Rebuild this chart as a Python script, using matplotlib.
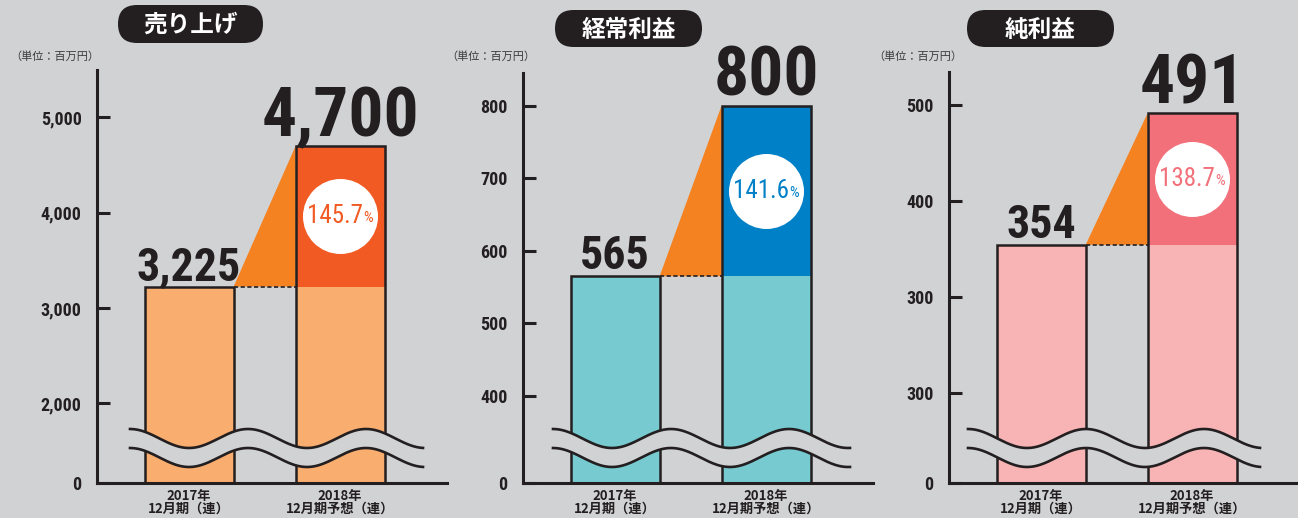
import numpy as np
import matplotlib
matplotlib.use("Agg")
import matplotlib.pyplot as plt
from matplotlib.patches import FancyBboxPatch, Polygon

plt.rcParams['font.family'] = ['Noto Sans CJK JP', 'DejaVu Sans']

# data (百万円)
titles = ["売り上げ", "経常利益", "純利益"]
categories = ["2017年\n12月期（連）", "2018年\n12月期予想（連）"]
sales = [3225, 4700]
ordinary = [565, 800]
net = [354, 491]
values = [sales, ordinary, net]

tick_vals = [[2000, 3000, 4000, 5000], [400, 500, 600, 700, 800], [200, 300, 400, 500]]
tick_labels = [["2,000", "3,000", "4,000", "5,000"],
               ["400", "500", "600", "700", "800"],
               ["300", "300", "400", "500"]]
ylims = [(1164, 5497), (280, 845), (106, 534)]

light = ["#f9ad6f", "#77cbd0", "#f8b4b4"]
dark = ["#f15a22", "#0080c6", "#f27079"]
tri_col = "#f58220"
bg = "#d1d2d4"
ink = "#231f20"
# condensed face for numbers: first one installed wins
narrow = ["Roboto Condensed", "Noto Sans ExtraCondensed", "Noto Sans Condensed",
          "DejaVu Sans Condensed", "Liberation Sans Narrow", "Open Sans Condensed",
          "DejaVu Sans"]

W, H = 1298, 518
fig = plt.figure(figsize=(W / 100, H / 100), dpi=100, facecolor=bg)

axis_x = [97, 523, 949]
axis_top = [70, 73, 72]
base_y = 483
unit = 151
xlim = (-0.61, 1.71)
bw = 0.59

def px_rect(x0, x1, ytop, ybot):
    return [x0 / W, 1 - ybot / H, (x1 - x0) / W, (ybot - ytop) / H]

for i in range(3):
    x0 = axis_x[i]
    x1 = x0 + (xlim[1] - xlim[0]) * unit
    ax = fig.add_axes(px_rect(x0, x1, axis_top[i], base_y))
    ax.set_facecolor("none")
    ymin, ymax = ylims[i]
    ax.set_xlim(*xlim)
    ax.set_ylim(ymin, ymax)
    v1, v2 = values[i]

    # bars
    ax.bar(0, v1 - ymin, bottom=ymin, width=bw, color=light[i],
           edgecolor=ink, linewidth=1.8, zorder=2)
    ax.bar(1, v1 - ymin, bottom=ymin, width=bw, color=light[i], linewidth=0, zorder=2)
    ax.bar(1, v2 - v1, bottom=v1, width=bw, color=dark[i], linewidth=0, zorder=2)
    ax.bar(1, v2 - ymin, bottom=ymin, width=bw, fill=False,
           edgecolor=ink, linewidth=1.8, zorder=3)

    # growth triangle + dashed guide
    ax.add_patch(Polygon([(bw / 2, v1), (1 - bw / 2, v2), (1 - bw / 2, v1)],
                         closed=True, color=tri_col, linewidth=0, zorder=2))
    ax.plot([bw / 2, 1 - bw / 2], [v1, v1], color=ink, lw=1.2,
            dashes=(2.5, 1.5), zorder=3)

    # value labels
    ax.annotate(f"{v1:,}", (0, v1), xytext=(0, 5), textcoords="offset points",
                ha="center", va="baseline", fontsize=33, family=narrow,
                fontstretch="condensed", fontweight="bold", color=ink, zorder=4)
    ax.annotate(f"{v2:,}", (1, v2), xytext=(0, 7), textcoords="offset points",
                ha="center", va="baseline", fontsize=50, family=narrow,
                fontstretch="condensed", fontweight="bold", color=ink, zorder=4)

    # percentage badge
    cy = (v1 + v2) / 2
    ax.scatter([1], [cy], s=54 ** 2, color="white", linewidths=0, zorder=5)
    pct = v2 / v1 * 100
    num = ax.annotate(f"{pct:.1f}", (1, cy), xytext=(-4, 0), textcoords="offset points",
                      ha="center", va="center", fontsize=18, family=narrow,
                      fontstretch="condensed", color=dark[i], zorder=6)
    ax.annotate("%", xy=(1, 0.14), xycoords=num, xytext=(0.5, 0),
                textcoords="offset points", ha="left", va="bottom",
                fontsize=11, family=narrow, fontstretch="condensed",
                color=dark[i], zorder=6)

    # axes styling
    for s in ["top", "right"]:
        ax.spines[s].set_visible(False)
    for s in ["left", "bottom"]:
        ax.spines[s].set_linewidth(2.2)
        ax.spines[s].set_color(ink)
    ax.set_yticks([ymin] + tick_vals[i])
    ax.set_yticklabels(["0"] + tick_labels[i], family=narrow, fontsize=13,
                       fontstretch="condensed", fontweight="bold", color=ink)
    ax.tick_params(axis="y", direction="in", length=9.5, width=2.2,
                   color=ink, pad=11)
    ax.set_xticks([0, 1])
    ax.set_xticklabels(categories, fontsize=9.5, fontweight="bold",
                       color=ink, linespacing=0.95)
    ax.tick_params(axis="x", length=0, pad=4)

# overlay for titles, units and axis-break waves
ov = fig.add_axes([0, 0, 1, 1], zorder=5)
ov.set_xlim(0, W)
ov.set_ylim(H, 0)
ov.axis("off")
ov.patch.set_alpha(0)

pills = [(118, 5, 145, 38), (555, 10, 147, 37), (967, 10, 147, 37)]
for (px, py, pw, ph), t in zip(pills, titles):
    ov.add_patch(FancyBboxPatch((px, py), pw, ph,
                                boxstyle=f"round,pad=0,rounding_size={ph / 2}",
                                fc=ink, ec="none"))
    ov.text(px + pw / 2, py + ph / 2 + 1, t, ha="center", va="center",
            color="white", fontsize=17, fontweight="bold")

for ux in [10, 446, 873]:
    ov.text(ux, 57, "（単位：百万円）", ha="left", va="center",
            fontsize=8, color="#3a3a3a")

waves = [(130, 423), (553, 850), (968, 1260)]
for xa, xb in waves:
    xs = np.linspace(xa, xb, 300)
    up = 438.5 - 9.5 * np.cos(2 * np.pi * (xs - xa) / 118)
    lo = up + 19
    ov.fill_between(xs, up, lo, color=bg, linewidth=0)
    ov.plot(xs, up, color=ink, lw=1.9)
    ov.plot(xs, lo, color=ink, lw=1.9)

fig.savefig("out.png", dpi=100, facecolor=bg)
